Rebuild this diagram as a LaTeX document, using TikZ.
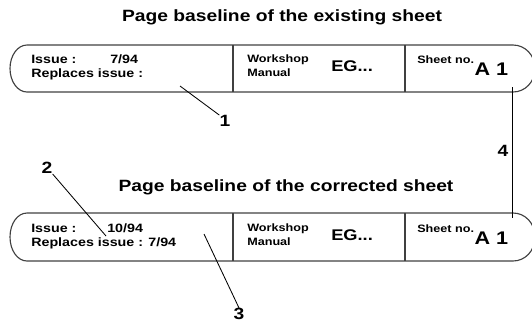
\documentclass[tikz,border=0pt]{standalone}
\usepackage{fontspec}
\setmainfont{Liberation Sans}[FakeStretch=1.18]
\usetikzlibrary{positioning}

\tikzset{
  sheet/.style={line width=0.8pt, draw=black!75},
  field/.style={font=\fontsize{8.6}{9}\selectfont\bfseries, inner sep=0pt, anchor=base west},
  label/.style={font=\fontsize{7.6}{8}\selectfont\bfseries, inner sep=0pt, anchor=base west},
  code/.style={font=\fontsize{11}{12}\selectfont\bfseries, inner sep=0pt, anchor=base west},
  sheetno/.style={font=\fontsize{13}{14}\selectfont\bfseries, inner sep=0pt, anchor=base west},
  heading/.style={font=\fontsize{11.6}{13}\selectfont\bfseries, inner sep=0pt},
  callout/.style={font=\fontsize{11.6}{13}\selectfont\bfseries, inner sep=0pt},
  leader/.style={line width=0.6pt},
}

\begin{document}
\begin{tikzpicture}[x=0.025cm,y=-0.025cm]
\useasboundingbox (0,0) rectangle (532,325);
% existing sheet
\node[heading] (head1) at (282,17) {Page baseline of the existing sheet};
\draw[sheet] (27,45) -- (513,45) .. controls (525,45) and (535,55) .. (535,68.5)
  .. controls (535,82) and (525,92) .. (513,92) -- (27,92)
  .. controls (17.6,92) and (10,81.5) .. (10,68.5)
  .. controls (10,55.5) and (17.6,45) .. cycle;
\draw[sheet] (233,45) -- (233,92) (405,45) -- (405,92);
\node[field] (issue1) at (31,63) {Issue :};
\node[field] (date1) at (110,63) {7/94};
\node[field] (repl1) at (31,77.5) {Replaces issue :};
\node[label] (work1) at (247,62) {Workshop};
\node[label] (man1) at (247,76) {Manual};
\node[code] (eg1) at (331,71) {EG...};
\node[label] (sno1) at (417,63) {Sheet no.};
\node[sheetno] (a1) at (sno1.base east) [yshift=-12*0.025cm] {A 1};
% corrected sheet
\node[heading] (head2) at (286,187) {Page baseline of the corrected sheet};
\draw[sheet] (27,213) -- (513,213) .. controls (525,213) and (535,223) .. (535,237)
  .. controls (535,251) and (525,261) .. (513,261) -- (27,261)
  .. controls (17.6,261) and (10,250.5) .. (10,237)
  .. controls (10,223.5) and (17.6,213) .. cycle;
\draw[sheet] (233,213) -- (233,261) (405,213) -- (405,261);
\node[field] (issue2) at (31,232) {Issue :};
\node[field] (date2) at (107,232) {10/94};
\node[field] (repl2) at (31,246.5) {Replaces issue : 7/94};
\node[label] (work2) at (247,231) {Workshop};
\node[label] (man2) at (247,245) {Manual};
\node[code] (eg2) at (331,240) {EG...};
\node[label] (sno2) at (417,232) {Sheet no.};
\node[sheetno] (a2) at (sno2.base east) [yshift=-12*0.025cm] {A 1};
% callouts
\node[callout] (n1) at (225,121) {1};
\node[callout] (n2) at (47,168) {2};
\node[callout] (n3) at (239,314) {3};
\node[callout] (n4) at (503,151) {4};
\coordinate (p1) at (180,86);
\coordinate (p2) at (106,236);
\coordinate (p3) at (204,234);
\coordinate (p4a) at (512,87);
\coordinate (p4b) at (512,218);
\draw[leader] (p1) -- (n1.north west);
\draw[leader] (n2.south east) -- (p2);
\draw[leader] (p3) -- (n3.north);
\draw[leader] (p4a) -- (p4b);
\end{tikzpicture}
\end{document}
